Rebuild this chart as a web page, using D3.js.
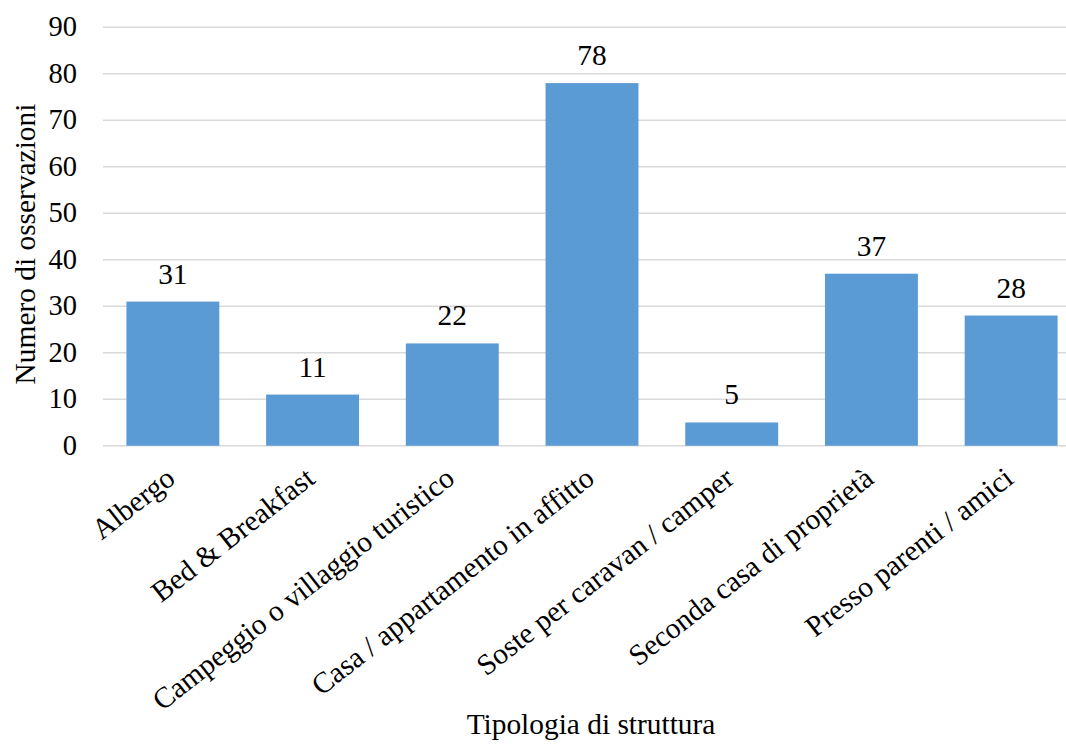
<!DOCTYPE html>
<html>
<head>
<meta charset="utf-8">
<script src="https://cdn.jsdelivr.net/npm/d3@7"></script>
</head>
<body style="margin:0;padding:0;background:#fff;overflow:hidden">
<script>
// Tipologia di struttura ricettiva: numero di osservazioni
const categories = [
  "Albergo",
  "Bed & Breakfast",
  "Campeggio o villaggio turistico",
  "Casa / appartamento in affitto",
  "Soste per caravan / camper",
  "Seconda casa di proprietà",
  "Presso parenti / amici"
];
const values = [31, 11, 22, 78, 5, 37, 28];
const yTicks = [0, 10, 20, 30, 40, 50, 60, 70, 80, 90];

const width = 1066, height = 753;
const plot = { left: 103, right: 1081, top: 27.3, bottom: 445.7 };
const FONT = "'Liberation Serif', 'Times New Roman', serif";
const FS = 29.4;

const svg = d3.select("body").append("svg")
  .attr("width", width).attr("height", height)
  .style("display", "block");

const x = d3.scaleBand()
  .domain(categories)
  .range([plot.left, plot.right])
  .paddingInner(0.335)
  .paddingOuter(0.1675);

const y = d3.scaleLinear()
  .domain([0, 90])
  .range([plot.bottom, plot.top]);

// horizontal gridlines
svg.append("g")
  .selectAll("line")
  .data(yTicks)
  .join("line")
  .attr("x1", plot.left).attr("x2", plot.right)
  .attr("y1", d => y(d)).attr("y2", d => y(d))
  .attr("stroke", "#d9d9d9")
  .attr("stroke-width", 1.4);

// y axis labels
const yAxis = d3.axisLeft(y).tickValues(yTicks).tickSize(0).tickPadding(0);
const gy = svg.append("g")
  .attr("transform", "translate(77,0)")
  .call(yAxis);
gy.select(".domain").remove();
gy.selectAll("text")
  .style("font-family", FONT)
  .style("font-size", "28.5px")
  .attr("fill", "#000")
  .attr("dy", "0.3em");

// bars
svg.append("g")
  .selectAll("rect")
  .data(values)
  .join("rect")
  .attr("x", (d, i) => x(categories[i]))
  .attr("width", x.bandwidth())
  .attr("y", d => y(d))
  .attr("height", d => y(0) - y(d))
  .attr("fill", "#5b9bd5");

// value labels
svg.append("g")
  .selectAll("text")
  .data(values)
  .join("text")
  .attr("x", (d, i) => x(categories[i]) + x.bandwidth() / 2)
  .attr("y", d => y(d) - 18)
  .attr("text-anchor", "middle")
  .style("font-family", FONT)
  .style("font-size", FS + "px")
  .text(d => d);

// category labels, rotated
svg.append("g")
  .selectAll("text")
  .data(categories)
  .join("text")
  .attr("transform", d => `translate(${x(d) + x.bandwidth() / 2 + 4},${plot.bottom + 36}) rotate(-38)`)
  .attr("text-anchor", "end")
  .style("font-family", FONT)
  .style("font-size", FS + "px")
  .text(d => d);

// axis titles
svg.append("text")
  .attr("x", 591).attr("y", 734)
  .attr("text-anchor", "middle")
  .style("font-family", FONT)
  .style("font-size", FS + "px")
  .text("Tipologia di struttura");

svg.append("text")
  .attr("transform", "translate(35,244) rotate(-90)")
  .attr("text-anchor", "middle")
  .style("font-family", FONT)
  .style("font-size", FS + "px")
  .text("Numero di osservazioni");
</script>
</body>
</html>
